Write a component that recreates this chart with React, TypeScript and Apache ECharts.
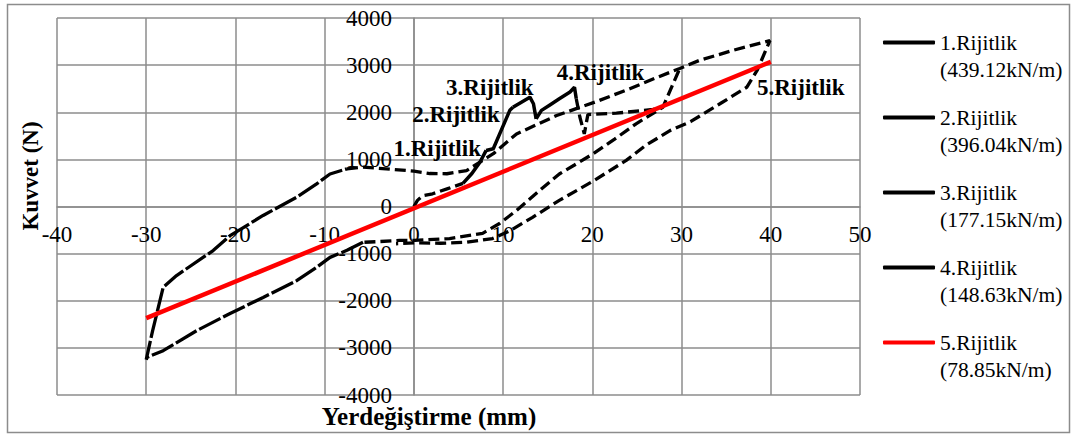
import React, { useEffect, useRef } from "react";
import * as echarts from "echarts";

// Axis ranges / ticks
const xMin = -40, xMax = 50, xStep = 10;
const yMin = -4000, yMax = 4000, yStep = 1000;

// Legend / label texts
const stiffNames = ["1.Rijitlik", "2.Rijitlik", "3.Rijitlik", "4.Rijitlik", "5.Rijitlik"];
const stiffValues = ["(439.12kN/m)", "(396.04kN/m)", "(177.15kN/m)", "(148.63kN/m)", "(78.85kN/m)"];
const xTitle = "Yerdeğiştirme (mm)";
const yTitle = "Kuvvet (N)";

// Hysteresis curve (displacement mm, force N), in pieces
const loadFirst = [[0, 0], [0.4, 130], [1, 230], [2.1, 270], [3.8, 380], [5.5, 490]];
const cycle30 = [
  [18.2, 2285], [18.6, 1900], [19.1, 1540], [19.5, 1950], [22.7, 1980], [26.8, 2060], [27.9, 2105],
  [29.8, 2930], [27.9, 2105], [24.9, 1755], [22.5, 1430], [20.1, 1120], [18, 880], [16.3, 690],
  [14.1, 340], [11.5, -85], [9.6, -360], [7.7, -570], [4, -680], [0, -720], [-1.6, -720],
  [-4, -745], [-5.7, -760],
];
const leftLoop = [
  [-5.7, -760], [-7.5, -930], [-9.4, -1080], [-10.9, -1290], [-13.1, -1570], [-16.9, -1930],
  [-20.6, -2270], [-24.3, -2630], [-28.1, -3060], [-29.9, -3200], [-30, -3250], [-29.3, -2650],
  [-28.1, -1715], [-26.6, -1465], [-22.5, -935], [-20.6, -620], [-16.9, -190], [-13.1, 200],
  [-10.9, 480], [-9.4, 690], [-7.5, 800],
];
const cycle40 = [
  [-7.5, 800], [-5.7, 835], [-3.1, 800], [0, 750], [1.8, 700], [3.7, 695], [5.9, 760], [7.4, 940],
  [8.9, 1120], [11.5, 1540], [16, 1930], [20.5, 2230], [24.2, 2500], [27, 2720], [29.8, 2930],
  [32, 3100], [35.7, 3310], [39.9, 3520], [38.5, 2900], [37.3, 2530], [34.3, 2180], [31, 1800],
  [28.7, 1610], [26, 1300], [23.8, 980], [20.1, 540], [16.3, 130], [13.3, -230], [10.8, -510],
  [8.8, -680], [5.9, -760], [3, -780], [0.3, -770], [-2, -790],
];

// Stiffness lines
const r1 = [[5.5, 490], [6.5, 700], [7.4, 940], [8.1, 1190]];
const r2 = [[8.1, 1190], [8.9, 1225], [10.75, 2040], [11.1, 2105]];
const r3 = [[11.1, 2105], [13, 2320], [13.4, 2180], [13.7, 1860]];
const r4 = [[13.7, 1860], [14.3, 2040], [15.2, 2150], [16.3, 2285], [17.5, 2430], [18, 2530], [18.2, 2285]];
const r5 = [[-30, -2370], [40, 3070]];

const stiffData = [r1, r2, r3, r4, r5];
const labelIndex = [3, 3, 1, 5, 1];
const labelOffset = [[-49, -2], [-57, 7], [-40, -10], [26, -15], [30, 26]];
const stiffColors = ["#000000", "#000000", "#000000", "#000000", "#ff0000"];

const FONT = '"Liberation Serif", "Times New Roman", serif';
const GRID = "#8c8c8c";

// plot area geometry
const G = { left: 57, top: 18, width: 803, height: 377 };

export default function App() {
  const ref = useRef<HTMLDivElement>(null);
  useEffect(() => {
    if (!ref.current) return;
    const chart = echarts.init(ref.current, null, { renderer: "svg" });
    // put axes through zero (crossing point) via offsets
    const yAxisOffset = -((0 - xMin) / (xMax - xMin)) * G.width;
    const xAxisOffset = -((0 - yMin) / (yMax - yMin)) * G.height;
    const dashed = (data: number[][], dash: number[]) => ({
      type: "line",
      data,
      showSymbol: false,
      silent: true,
      z: 2,
      lineStyle: { color: "#000", width: 3.3, type: dash, cap: "butt" },
    });
    const stiffSeries = stiffData.map((d, i) => ({
      type: "line",
      name: stiffNames[i],
      data: d.map((p, j) =>
        j === labelIndex[i]
          ? {
              value: p,
              label: {
                show: true,
                formatter: stiffNames[i],
                position: labelOffset[i],
                align: "center",
                verticalAlign: "middle",
                fontFamily: FONT,
                fontWeight: "bold",
                fontSize: 23,
                color: "#000",
              },
            }
          : { value: p }
      ),
      showSymbol: true,
      symbol: "circle",
      symbolSize: 0,
      color: stiffColors[i],
      z: i === 4 ? 4 : 3,
      lineStyle: { color: stiffColors[i], width: i === 4 ? 4.5 : 3.5 },
      itemStyle: { color: stiffColors[i] },
    }));
    chart.setOption({
      animation: false,
      backgroundColor: "#fff",
      grid: { ...G, containLabel: false },
      xAxis: {
        type: "value",
        min: xMin,
        max: xMax,
        interval: xStep,
        position: "bottom",
        offset: xAxisOffset,
        axisLine: { onZero: false, lineStyle: { color: GRID, width: 1.5 } },
        axisTick: { show: false },
        axisLabel: {
          margin: 16,
          fontFamily: FONT,
          fontSize: 23,
          color: "#000",
          formatter: (v: number) => String(v),
        },
        splitLine: { show: true, lineStyle: { color: GRID, width: 1.5 } },
      },
      yAxis: {
        type: "value",
        min: yMin,
        max: yMax,
        interval: yStep,
        position: "left",
        offset: yAxisOffset,
        axisLine: { show: true, onZero: false, lineStyle: { color: GRID, width: 1.5 } },
        axisTick: { show: false },
        axisLabel: {
          margin: 22,
          fontFamily: FONT,
          fontSize: 23,
          color: "#000",
          formatter: (v: number) => String(v),
        },
        splitLine: { show: true, lineStyle: { color: GRID, width: 1.5 } },
      },
      legend: {
        orient: "vertical",
        left: 883,
        top: 2,
        padding: 0,
        itemGap: -6,
        itemWidth: 52,
        itemHeight: 4,
        icon: "roundRect",
        data: stiffNames,
        formatter: (name: string) => "\n" + name + "\n" + stiffValues[stiffNames.indexOf(name)],
        textStyle: { fontFamily: FONT, fontSize: 21.5, lineHeight: 27, color: "#000" },
      },
      graphic: [
        {
          type: "rect",
          shape: { x: 7.5, y: 4.5, width: 1062, height: 428 },
          style: { fill: "none", stroke: GRID, lineWidth: 1.5 },
          silent: true,
        },
        {
          type: "text",
          x: 429,
          y: 416,
          style: {
            text: xTitle,
            fontFamily: FONT,
            fontWeight: "bold",
            fontSize: 25,
            fill: "#000",
            textAlign: "center",
            textVerticalAlign: "middle",
          },
        },
        {
          type: "text",
          x: 30,
          y: 176,
          rotation: Math.PI / 2,
          style: {
            text: yTitle,
            fontFamily: FONT,
            fontWeight: "bold",
            fontSize: 23,
            fill: "#000",
            textAlign: "center",
            textVerticalAlign: "middle",
          },
        },
      ],
      series: [
        dashed(loadFirst, [11, 5]),
        dashed(cycle30, [11, 5]),
        dashed(leftLoop, [24, 3]),
        dashed(cycle40, [11, 5]),
        ...stiffSeries,
      ],
    });
    return () => chart.dispose();
  }, []);
  return (
    <div
      ref={ref}
      style={{ position: "fixed", left: 0, top: 0, width: 1071, height: 434, background: "#fff" }}
    />
  );
}
